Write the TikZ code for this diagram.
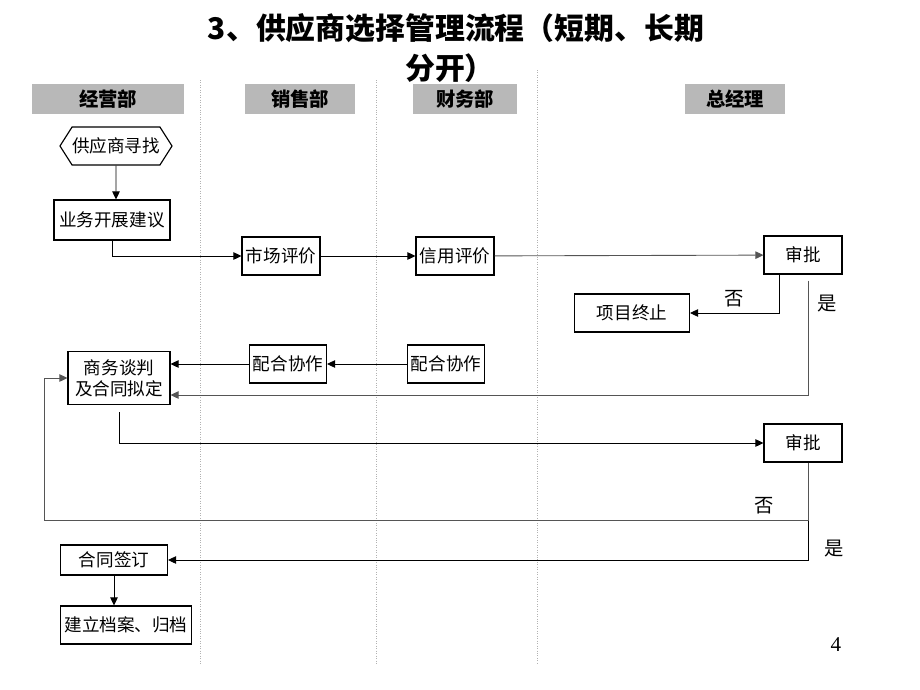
\documentclass[tikz,border=0pt]{standalone}
\usepackage{fontspec}
\usepackage{tikz}
\usetikzlibrary{arrows.meta, calc, shapes.symbols}
\newfontfamily\cjk{Noto Sans CJK SC}
\newfontfamily\numfont{Liberation Serif}
\definecolor{laneGray}{HTML}{B8B8B8}
\definecolor{lineGray}{HTML}{555555}

\begin{document}
\begin{tikzpicture}[
  x=0.02cm, y=-0.02cm,
  font=\cjk\fontsize{10}{12}\selectfont,
  lanehead/.style={fill=laneGray, minimum height=0.6cm, inner sep=0,
               font=\cjk\bfseries\fontsize{11}{13}\selectfont},
  proc/.style={draw, line width=0.65pt, inner sep=0, align=center,
               minimum height=0.76cm},
  hexa/.style={draw, line width=0.65pt, shape=signal, signal to=east and west,
               signal pointer angle=115, inner sep=0, minimum height=0.76cm},
  flow/.style={-{Triangle[length=1.6mm, width=1.5mm]}, line width=0.5pt},
  gflow/.style={flow, draw=lineGray},
  lane/.style={draw=gray!60, densely dotted, line width=0.4pt},
  tag/.style={font=\cjk\fontsize{11}{13}\selectfont},
]
\useasboundingbox (0,0) rectangle (920,690);

% title
\node[font=\cjk\bfseries\fontsize{17}{20}\selectfont] (ttl1) at (456,28) {3、供应商选择管理流程（短期、长期};
\node[font=\cjk\bfseries\fontsize{17}{20}\selectfont] (ttl2) at (450,68) {分开）};

% lanes
\draw[lane] (200,80) -- (200,665);
\draw[lane] (376,80) -- (376,665);
\draw[lane] (537,70) -- (537,665);
\node[lanehead, minimum width=3.06cm] (h1) at (108,99) {经营部};
\node[lanehead, minimum width=2.2cm] (h2) at (300,99) {销售部};
\node[lanehead, minimum width=2.1cm] (h3) at (465,99) {财务部};
\node[lanehead, minimum width=2.0cm] (h4) at (735,99) {总经理};

% nodes
\node[hexa, minimum width=2.14cm] (find) at (116,146) {供应商寻找};
\node[proc, minimum width=2.32cm, minimum height=0.8cm] (biz) at (112,220) {业务开展建议};
\node[proc, minimum width=1.56cm] (mkt) at (281,256) {市场评价};
\node[proc, minimum width=1.56cm] (cred) at (455,256) {信用评价};
\node[proc, minimum width=1.56cm] (sp1) at (803,255) {审批};
\node[proc, minimum width=2.3cm] (stop) at (632,313) {项目终止};
\node[proc, minimum width=2.04cm, minimum height=1.06cm] (neg) at (119,378) {商务谈判\\及合同拟定};
\node[proc, minimum width=1.54cm] (sal2) at (288,364) {配合协作};
\node[proc, minimum width=1.54cm] (fin2) at (446,364) {配合协作};
\node[proc, minimum width=1.56cm] (sp2) at (803,443) {审批};
\node[proc, minimum width=2.14cm, minimum height=0.6cm] (sign) at (114,560) {合同签订};
\node[proc, minimum width=2.62cm] (arch) at (126,625) {建立档案、归档};

\coordinate (y1) at ($(sp1.south)+(5,6)$);
\coordinate (n1) at ($(neg.south)+(0,7)$);
\coordinate (split) at ($(sp2.south)+(5,58)$);
\coordinate (loopx) at ($(neg.west)+(-23,0)$);

% connectors
\draw[flow] (find) -- (find |- biz.north);
\draw[flow] (biz.south) |- (mkt.west);
\draw[flow] (mkt) -- (cred);
\draw[gflow] (cred) -- (sp1);
\draw[flow] ($(sp1.south)+(-24,0)$) |- node[tag, pos=0.75, above] {否} (stop.east);
\draw[gflow] (y1) |- node[tag, pos=0.1, right=2pt] {是} ($(neg.east)+(0,17)$);
\draw[flow] (fin2) -- (sal2);
\draw[flow] (sal2.west) -- (sal2.west -| neg.east);
\draw[flow] (n1) |- (sp2.west);
\draw[gflow] ($(sp2.south)+(5,0)$) -- (split) -| (loopx) -- (neg.west);
\node[tag, above left] (no2) at ($(split)+(-28,0)$) {否};
\draw[flow] (split) |- node[tag, pos=0.35, right=6pt] {是} (sign.east);
\draw[flow] (sign.south) -- (sign.south |- arch.north);

\node[font=\numfont\fontsize{12}{14}\selectfont] (pg) at (836,645) {4};
\end{tikzpicture}
\end{document}
